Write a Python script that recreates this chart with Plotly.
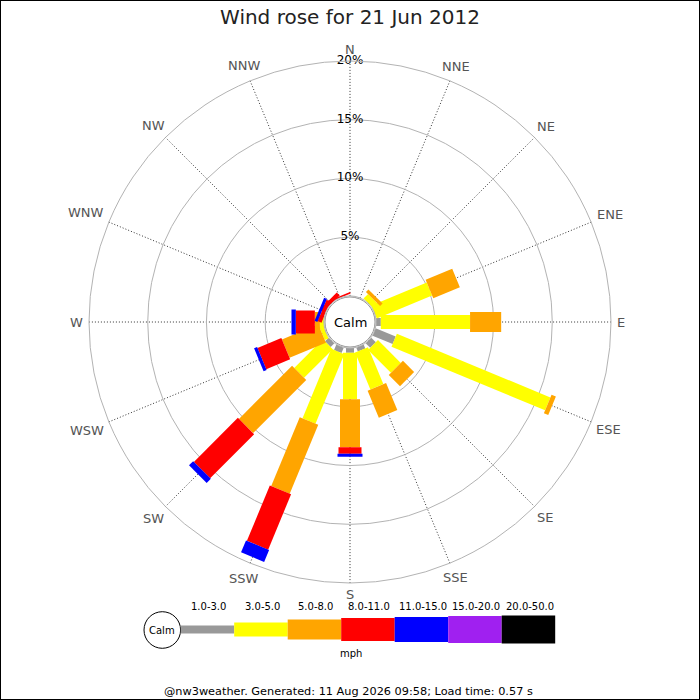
import math
import plotly.graph_objects as go

# compass points, clockwise from north
directions = ['N', 'NNE', 'NE', 'ENE', 'E', 'ESE', 'SE', 'SSE',
              'S', 'SSW', 'SW', 'WSW', 'W', 'WNW', 'NW', 'NNW']

# speed bins (mph) and their colours
speed_bins = ['1.0-3.0', '3.0-5.0', '5.0-8.0', '8.0-11.0',
              '11.0-15.0', '15.0-20.0', '20.0-50.0']
bin_colors = ['#999999', '#ffff00', '#ffa500', '#ff0000',
              '#0000ff', '#a020f0', '#000000']

# % of the day in each speed bin, per direction
pct_1_3 = [0, 0, 0, 0, 0.4, 1.85, 0.55, 0.35, 0.4, 0.5, 0.45, 0, 0, 0, 0, 0]
pct_3_5 = [0, 0, 0.55, 5.1, 7.6, 14.15, 2.75, 3.4, 3.95, 6.4, 3.45, 0.35, 0.34, 0, 0, 0]
pct_5_8 = [0, 0, 0.3, 2.45, 2.65, 0.4, 1.35, 2.5, 4.1, 6.35, 6.4, 3.35, 0.43, 0, 0, 0]
pct_8_11 = [0, 0, 0, 0, 0, 0, 0, 0, 0.55, 5.1, 5.3, 2.2, 1.62, 0.35, 0.35, 0.15]
pct_11_15 = [0, 0, 0, 0, 0, 0, 0, 0, 0.25, 1.1, 0.5, 0.28, 0.37, 0.25, 0, 0]
pct_15_20 = [0, 0, 0, 0, 0, 0, 0, 0, 0, 0, 0, 0, 0, 0, 0, 0]
pct_20_50 = [0, 0, 0, 0, 0, 0, 0, 0, 0, 0, 0, 0, 0, 0, 0, 0]

radial_ticks = [5, 10, 15, 20]

title = 'Wind rose for 21 Jun 2012'
footer = '@nw3weather. Generated: 11 Aug 2026 09:58; Load time: 0.57 s'

# bar thickness in px for each bin (also used for the key)
bin_px = [8, 14, 20, 23, 25, 27, 28]

FONT = 'DejaVu Sans'
W = H = 700
cx, cy = 350, 322      # centre of rose, px from top-left
R = 261                # px radius of the 20% ring
LABEL_BASE = 267       # compass names start this far out, then pushed by their own size
LABEL_SIZE = 13
GLYPH_EM = {'N': 0.748, 'E': 0.632, 'S': 0.635, 'W': 0.989}  # DejaVu Sans advances

fig = go.Figure()

# stacked bars as thick radial lines, one trace per speed bin
all_bins = [pct_1_3, pct_3_5, pct_5_8, pct_8_11, pct_11_15, pct_15_20, pct_20_50]
base = [0.0] * len(directions)
for vals, col, px in zip(all_bins, bin_colors, bin_px):
    r, th = [], []
    for i, d in enumerate(directions):
        if vals[i] > 0:
            r += [base[i], base[i] + vals[i], None]
            th += [d, d, None]
        base[i] += vals[i]
    fig.add_trace(go.Scatterpolar(
        r=r, theta=th, mode='lines',
        line=dict(color=col, width=px),
        hoverinfo='skip', showlegend=False))

# % labels sitting on the rings along the N spoke
fig.add_trace(go.Scatterpolar(
    r=radial_ticks, theta=[directions[0]] * len(radial_ticks),
    mode='text', text=[f'{t}%' for t in radial_ticks],
    textposition='middle center',
    textfont=dict(family=FONT, size=12, color='black'),
    cliponaxis=False, hoverinfo='skip', showlegend=False))

shapes = []
annotations = []


def note(text, x, y, size, color='black'):
    # x, y in px from the top-left corner
    annotations.append(dict(text=text, x=x / W, y=1 - y / H, xref='paper', yref='paper',
                            xanchor='center', yanchor='middle', showarrow=False,
                            font=dict(family=FONT, size=size, color=color)))


# compass names round the outside of the 20% ring, each clear of the ring by its own box
step = 360 / len(directions)
for i, d in enumerate(directions):
    a = math.radians(i * step)
    half_w = sum(GLYPH_EM[c] for c in d) * LABEL_SIZE / 2
    half_h = 5
    rr = LABEL_BASE + half_w * abs(math.sin(a)) + half_h * abs(math.cos(a))
    note(d, cx + rr * math.sin(a), cy - rr * math.cos(a), LABEL_SIZE, '#555555')

# calm circle in the middle
shapes.append(dict(type='circle', xref='paper', yref='paper', layer='above',
                   x0=(cx - 25) / W, x1=(cx + 25) / W,
                   y0=1 - (cy + 25) / H, y1=1 - (cy - 25) / H,
                   line=dict(color='#999999', width=1), fillcolor='white'))
note('Calm', cx, cy, 13)

# key along the bottom
key_x0, key_step, key_y = 180.7, 53.5, 629.5
shapes.append(dict(type='circle', xref='paper', yref='paper',
                   x0=(162.3 - 18.3) / W, x1=(162.3 + 18.3) / W,
                   y0=1 - (630 + 18.3) / H, y1=1 - (630 - 18.3) / H,
                   line=dict(color='black', width=1), fillcolor='white'))
note('Calm', 162.3, 630, 10)
for i, (lab, col, px) in enumerate(zip(speed_bins, bin_colors, bin_px)):
    x0 = key_x0 + i * key_step
    shapes.append(dict(type='rect', xref='paper', yref='paper', layer='above',
                       x0=x0 / W, x1=(x0 + key_step) / W,
                       y0=1 - (key_y + px / 2) / H, y1=1 - (key_y - px / 2) / H,
                       line=dict(width=0), fillcolor=col))
    note(lab, x0 + key_step / 2 + 1.5, 606.7, 10)
note('mph', 350.7, 653.3, 10)
note(footer, 348, 691, 11.3)

# frame round the whole image
shapes.append(dict(type='rect', xref='paper', yref='paper', x0=0, x1=1, y0=0, y1=1,
                   line=dict(color='black', width=2)))

fig.update_layout(
    width=W, height=H, autosize=False,
    margin=dict(l=0, r=0, t=0, b=0),
    paper_bgcolor='white',
    title=dict(text=title, x=0.5, xanchor='center', y=1 - 17 / H, yanchor='middle',
               font=dict(family=FONT, size=20, color='#222222')),
    polar=dict(
        domain=dict(x=[(cx - R) / W, (cx + R) / W],
                    y=[1 - (cy + R) / H, 1 - (cy - R) / H]),
        hole=0.1,
        bgcolor='white',
        radialaxis=dict(range=[0, 20], tickvals=radial_ticks, showticklabels=False,
                        ticks='', showline=False, gridcolor='#b3b3b3', gridwidth=1),
        angularaxis=dict(type='category', categoryarray=directions,
                         rotation=90, direction='clockwise',
                         showline=True, linecolor='#b3b3b3', linewidth=1,
                         gridcolor='#333333', griddash='1px,2px',
                         ticks='', showticklabels=False),
    ),
    shapes=shapes,
    annotations=annotations,
    showlegend=False,
)

# page body has an 8px margin by default; drop it so the chart sits at 0,0
fig.write_html('out.html', config={'displayModeBar': False},
               post_script="document.body.style.margin='0';")
